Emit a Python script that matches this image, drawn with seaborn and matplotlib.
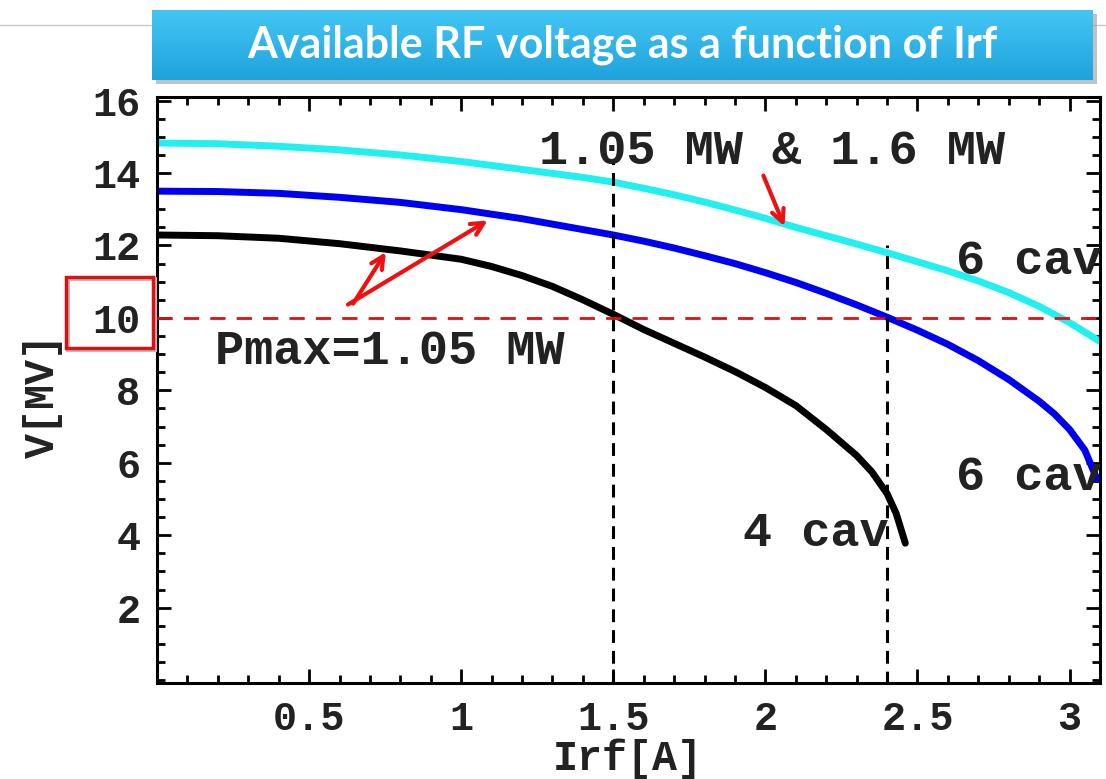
import numpy as np
import pandas as pd
import seaborn as sns
import matplotlib.pyplot as plt
from matplotlib.patches import Rectangle
from matplotlib.lines import Line2D
from matplotlib.ticker import MultipleLocator

# data
irf_cyan = [0.0, 0.2, 0.4, 0.6, 0.8, 1.0, 1.2, 1.4, 1.5, 1.6, 1.7, 1.8, 1.9, 2.0, 2.1,
            2.2, 2.3, 2.4, 2.5, 2.6, 2.7, 2.8, 2.9, 3.0, 3.1]
v_cyan = [14.83, 14.81, 14.74, 14.64, 14.5, 14.32, 14.1, 13.88, 13.75, 13.58, 13.4, 13.2,
          12.98, 12.75, 12.5, 12.27, 12.04, 11.8, 11.55, 11.3, 11.02, 10.7, 10.32, 9.87, 9.35]

irf_blue = [0.0, 0.2, 0.4, 0.6, 0.8, 1.0, 1.2, 1.4, 1.5, 1.6, 1.7, 1.8, 1.9, 2.0, 2.1,
            2.2, 2.3, 2.4, 2.5, 2.6, 2.7, 2.8, 2.9, 2.95, 3.0, 3.05, 3.09]
v_blue = [13.5, 13.49, 13.44, 13.33, 13.19, 12.99, 12.74, 12.44, 12.29, 12.12, 11.93, 11.72,
          11.5, 11.25, 10.98, 10.68, 10.36, 10.02, 9.66, 9.27, 8.82, 8.3, 7.7, 7.35, 6.92,
          6.35, 5.55]

irf_black = [0.0, 0.2, 0.4, 0.6, 0.8, 1.0, 1.1, 1.2, 1.3, 1.4, 1.5, 1.6, 1.7, 1.8, 1.9,
             2.0, 2.1, 2.2, 2.3, 2.35, 2.4, 2.43, 2.46]
v_black = [12.29, 12.27, 12.2, 12.05, 11.85, 11.62, 11.42, 11.17, 10.87, 10.5, 10.1, 9.68,
           9.3, 8.92, 8.52, 8.08, 7.58, 6.92, 6.2, 5.75, 5.15, 4.6, 3.78]

x_ticks = [0.5, 1, 1.5, 2, 2.5, 3]
x_tick_labels = ["0.5", "1", "1.5", "2", "2.5", "3"]
y_ticks = [2, 4, 6, 8, 10, 12, 14, 16]
y_tick_labels = ["2", "4", "6", "8", "10", "12", "14", "16"]

v_target = 10
irf_marks = [1.5, 2.4]
irf_marks_top = [14.4, 12.0]

labels = ["1.05 MW & 1.6 MW", "6 cav", "6 cav", "4 cav", "Pmax=1.05 MW"]
label_x = [1.255, 2.625, 2.625, 1.925, 0.19]
label_y = [14.6, 11.55, 5.6, 4.05, 9.07]

sns.set_style("white")
mono = ["Liberation Mono", "DejaVu Sans Mono"]
plt.rcParams["font.family"] = mono

fig = plt.figure(figsize=(11.06, 7.79), dpi=100)
ax = fig.add_axes([157/1106, 1-683/779, 943/1106, 586/779])

df_c = pd.DataFrame({"Irf": irf_cyan, "V": v_cyan})
df_b = pd.DataFrame({"Irf": irf_blue, "V": v_blue})
df_k = pd.DataFrame({"Irf": irf_black, "V": v_black})

sns.lineplot(data=df_c, x="Irf", y="V", color="#22f0f0", lw=5, ax=ax, sort=False)
sns.lineplot(data=df_b, x="Irf", y="V", color="#0000f0", lw=5, ax=ax, sort=False)
sns.lineplot(data=df_k, x="Irf", y="V", color="black", lw=5, ax=ax, sort=False)

# reference lines
ax.axhline(v_target, color="#e01010", lw=2, dashes=(5.5, 4), zorder=5)
for xm, top in zip(irf_marks, irf_marks_top):
    ax.plot([xm, xm], [-0.1, top], color="black", lw=2.2, dashes=(4.2, 2.6), zorder=4)

ax.set_xlim(0, 3.1)
ax.set_ylim(-0.08, 16.1)
ax.set_xticks(x_ticks)
ax.set_xticklabels(x_tick_labels)
ax.set_yticks(y_ticks)
ax.set_yticklabels(y_tick_labels)
ax.xaxis.set_minor_locator(MultipleLocator(0.1))
ax.yaxis.set_minor_locator(MultipleLocator(0.5))
ax.tick_params(which="both", direction="in", top=True, right=True, bottom=True, left=True,
               color="black", width=2)
ax.tick_params(which="major", length=10, labelsize=29, pad=12)
ax.tick_params(which="minor", length=6)
for t in ax.get_xticklabels() + ax.get_yticklabels():
    t.set_fontweight("bold")
    t.set_color("#222222")
for s in ax.spines.values():
    s.set_color("black")
    s.set_linewidth(2.2)

ax.set_xlabel("Irf[A]", fontsize=30, fontweight="bold", color="#222222")
ax.set_ylabel("V[MV]", fontsize=30, fontweight="bold", color="#222222")
ax.xaxis.set_label_coords(0.4995, -0.095)
ax.yaxis.set_label_coords(-0.1, 0.49)

for txt, tx, ty in zip(labels, label_x, label_y):
    ax.text(tx, ty, txt, fontsize=35, fontweight="bold", color="#222222",
            ha="left", va="center", clip_on=True, zorder=6)

# red arrows
arrow_kw = dict(arrowstyle="->,head_length=0.9,head_width=0.45", color="#ee1111", lw=3)
ax.annotate("", xy=(1.095, 12.73), xytext=(0.62, 10.33), arrowprops=arrow_kw, zorder=7)
ax.annotate("", xy=(0.757, 11.88), xytext=(0.64, 10.33), arrowprops=arrow_kw, zorder=7)
ax.annotate("", xy=(2.066, 12.46), xytext=(1.99, 14.0), arrowprops=arrow_kw, zorder=7)

# red box round the 10 tick label
fig.add_artist(Rectangle((68/1106, 1-350/779), 87/1106, 71/779, transform=fig.transFigure,
                         fill=False, edgecolor="#bbbbbb", lw=3, zorder=1))
fig.add_artist(Rectangle((66/1106, 1-348/779), 87/1106, 71/779, transform=fig.transFigure,
                         fill=False, edgecolor="#dd1111", lw=2.5, zorder=2))

# slide separator line
fig.add_artist(Line2D([0, 1], [1-25/779, 1-25/779], color="#c8c8c8", lw=1, zorder=0))

# title banner with gradient
fig.add_artist(Rectangle((156/1106, 1-84/779), 941/1106, 70/779, transform=fig.transFigure,
                         facecolor="#9a9a9a", edgecolor="none", alpha=0.6, zorder=3))
tax = fig.add_axes([152/1106, 1-80/779, 941/1106, 70/779], zorder=4)
grad = np.linspace(0, 1, 64).reshape(-1, 1)
tax.imshow(grad, aspect="auto", cmap=sns.blend_palette(["#44c6f4", "#1ea3dc"], as_cmap=True),
           extent=[0, 1, 0, 1])
tax.set_xlim(0, 1)
tax.set_ylim(0, 1)
tax.axis("off")
tax.text(0.5, 0.5, "Available RF voltage as a function of Irf", color="white",
         fontsize=31, fontweight="bold", family=["Lato", "DejaVu Sans"],
         ha="center", va="center")

fig.savefig("out.png", dpi=100)
